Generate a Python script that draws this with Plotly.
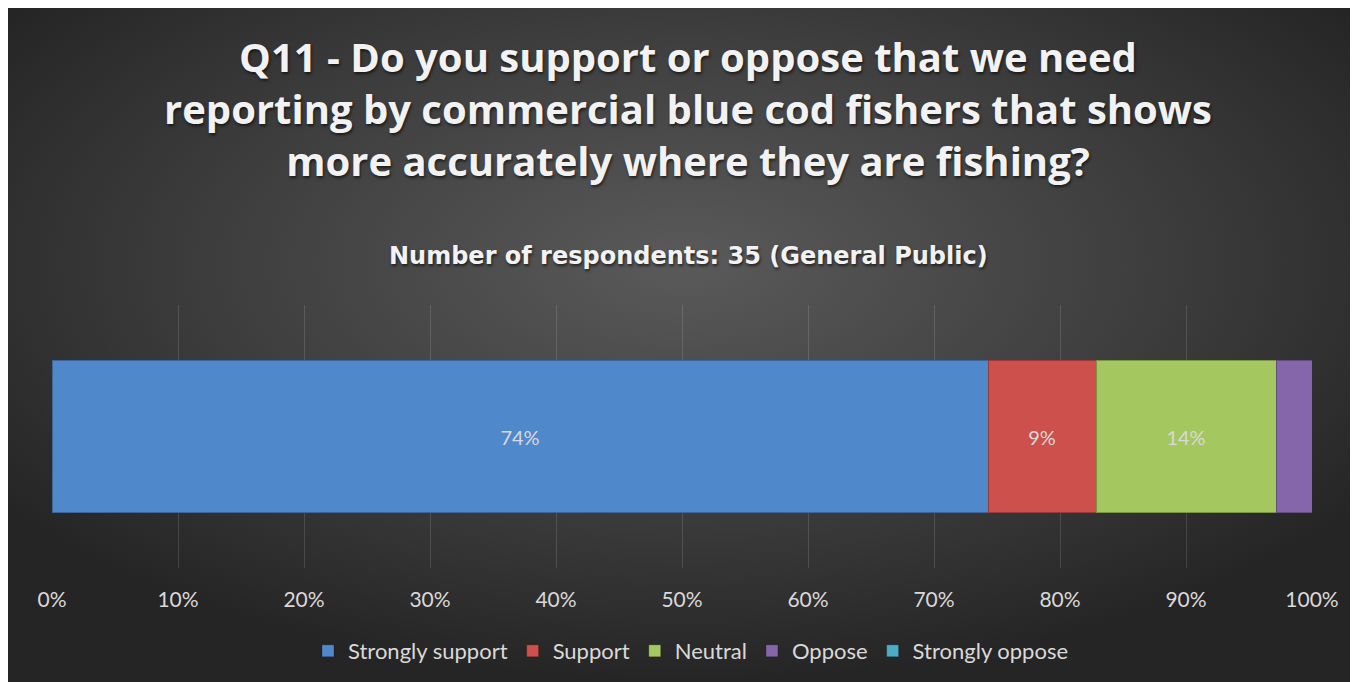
import base64
import plotly.graph_objects as go

# ---- data ----
categories = ["Strongly support", "Support", "Neutral", "Oppose", "Strongly oppose"]
counts = [26, 3, 5, 1, 0]
total_respondents = 35
percent_values = [c / total_respondents * 100 for c in counts]
label_text = ["74%", "9%", "14%", "", ""]
colors = ["#5088CC", "#CD504C", "#A5C75F", "#8566AA", "#4BACC6"]
x_ticks = [0, 10, 20, 30, 40, 50, 60, 70, 80, 90, 100]
x_tick_labels = [f"{t}%" for t in x_ticks]
row_name = ["Q11"]

title_text = ("Q11 - Do you support or oppose that we need<br>"
              "reporting by commercial blue cod fishers that shows<br>"
              "more accurately where they are fishing?")
subtitle_text = "Number of respondents: 35 (General Public)"

# figure occupies the dark area (page body margin of 8px gives the white strip)
W, H = 1350, 674
L, R, T, B = 44, 46, 297, 114
pw, ph = W - L - R, H - T - B

def fx(p):
    # figure pixel -> paper x
    return (p - L) / pw

def fy(p):
    # figure pixel -> paper y
    return (H - B - p) / ph

fig = go.Figure()
for name, val, txt, col in zip(categories, percent_values, label_text, colors):
    fig.add_trace(go.Bar(
        name=name, y=row_name, x=[val], orientation="h",
        marker=dict(color=col, line=dict(color="rgba(0,0,0,0.25)", width=1)),
        text=[txt], textposition="inside", insidetextanchor="middle",
        textfont=dict(family="Lato", size=20, color="#D9D9D9"),
        hoverinfo="name+x",
    ))

svg = ("<svg xmlns='http://www.w3.org/2000/svg' width='1350' height='674'>"
       "<defs><radialGradient id='g' cx='0.5' cy='0.38' r='0.62'>"
       "<stop offset='0' stop-color='#5A5A5A'/>"
       "<stop offset='0.55' stop-color='#3E3E3E'/>"
       "<stop offset='1' stop-color='#252525'/>"
       "</radialGradient></defs>"
       "<rect width='1350' height='674' fill='url(#g)'/></svg>")
src = "data:image/svg+xml;base64," + base64.b64encode(svg.encode()).decode()

shadow = "1px 2px 3px rgba(0,0,0,0.6)"

fig.update_layout(
    width=W, height=H,
    margin=dict(l=L, r=R, t=T, b=B, autoexpand=False),
    paper_bgcolor="#2B2B2B",
    plot_bgcolor="rgba(0,0,0,0)",
    barmode="stack",
    bargap=0.42,
    images=[dict(source=src, xref="paper", yref="paper",
                 x=fx(0), y=fy(0), sizex=W / pw, sizey=H / ph,
                 xanchor="left", yanchor="top", sizing="stretch",
                 layer="below")],
    title=dict(text=title_text, x=680 / W, xanchor="center",
               y=1 - 64 / H, yanchor="middle",
               font=dict(family="Open Sans", size=40, color="#F2F2F2", weight="bold",
                         shadow=shadow)),
    annotations=[dict(text=subtitle_text, xref="paper", yref="paper",
                      x=fx(680), y=fy(248),
                      xanchor="center", yanchor="middle", showarrow=False,
                      font=dict(family="DejaVu Sans", size=24, color="#F2F2F2",
                                weight="bold", shadow=shadow))],
    xaxis=dict(range=[0, 100], tickvals=x_ticks, ticktext=x_tick_labels,
               showgrid=True, gridcolor="rgba(255,255,255,0.13)", gridwidth=1,
               zeroline=False, showline=False, ticks="",
               ticklabelstandoff=17,
               tickfont=dict(family="Lato", size=21, color="#D9D9D9")),
    yaxis=dict(showticklabels=False, showgrid=False, zeroline=False, showline=False),
    legend=dict(orientation="h", x=fx(683), xanchor="center",
                y=fy(643), yanchor="middle",
                font=dict(family="Lato", size=22, color="#D9D9D9"),
                bgcolor="rgba(0,0,0,0)", traceorder="normal"),
    showlegend=True,
)

fig.write_html("out.html")
